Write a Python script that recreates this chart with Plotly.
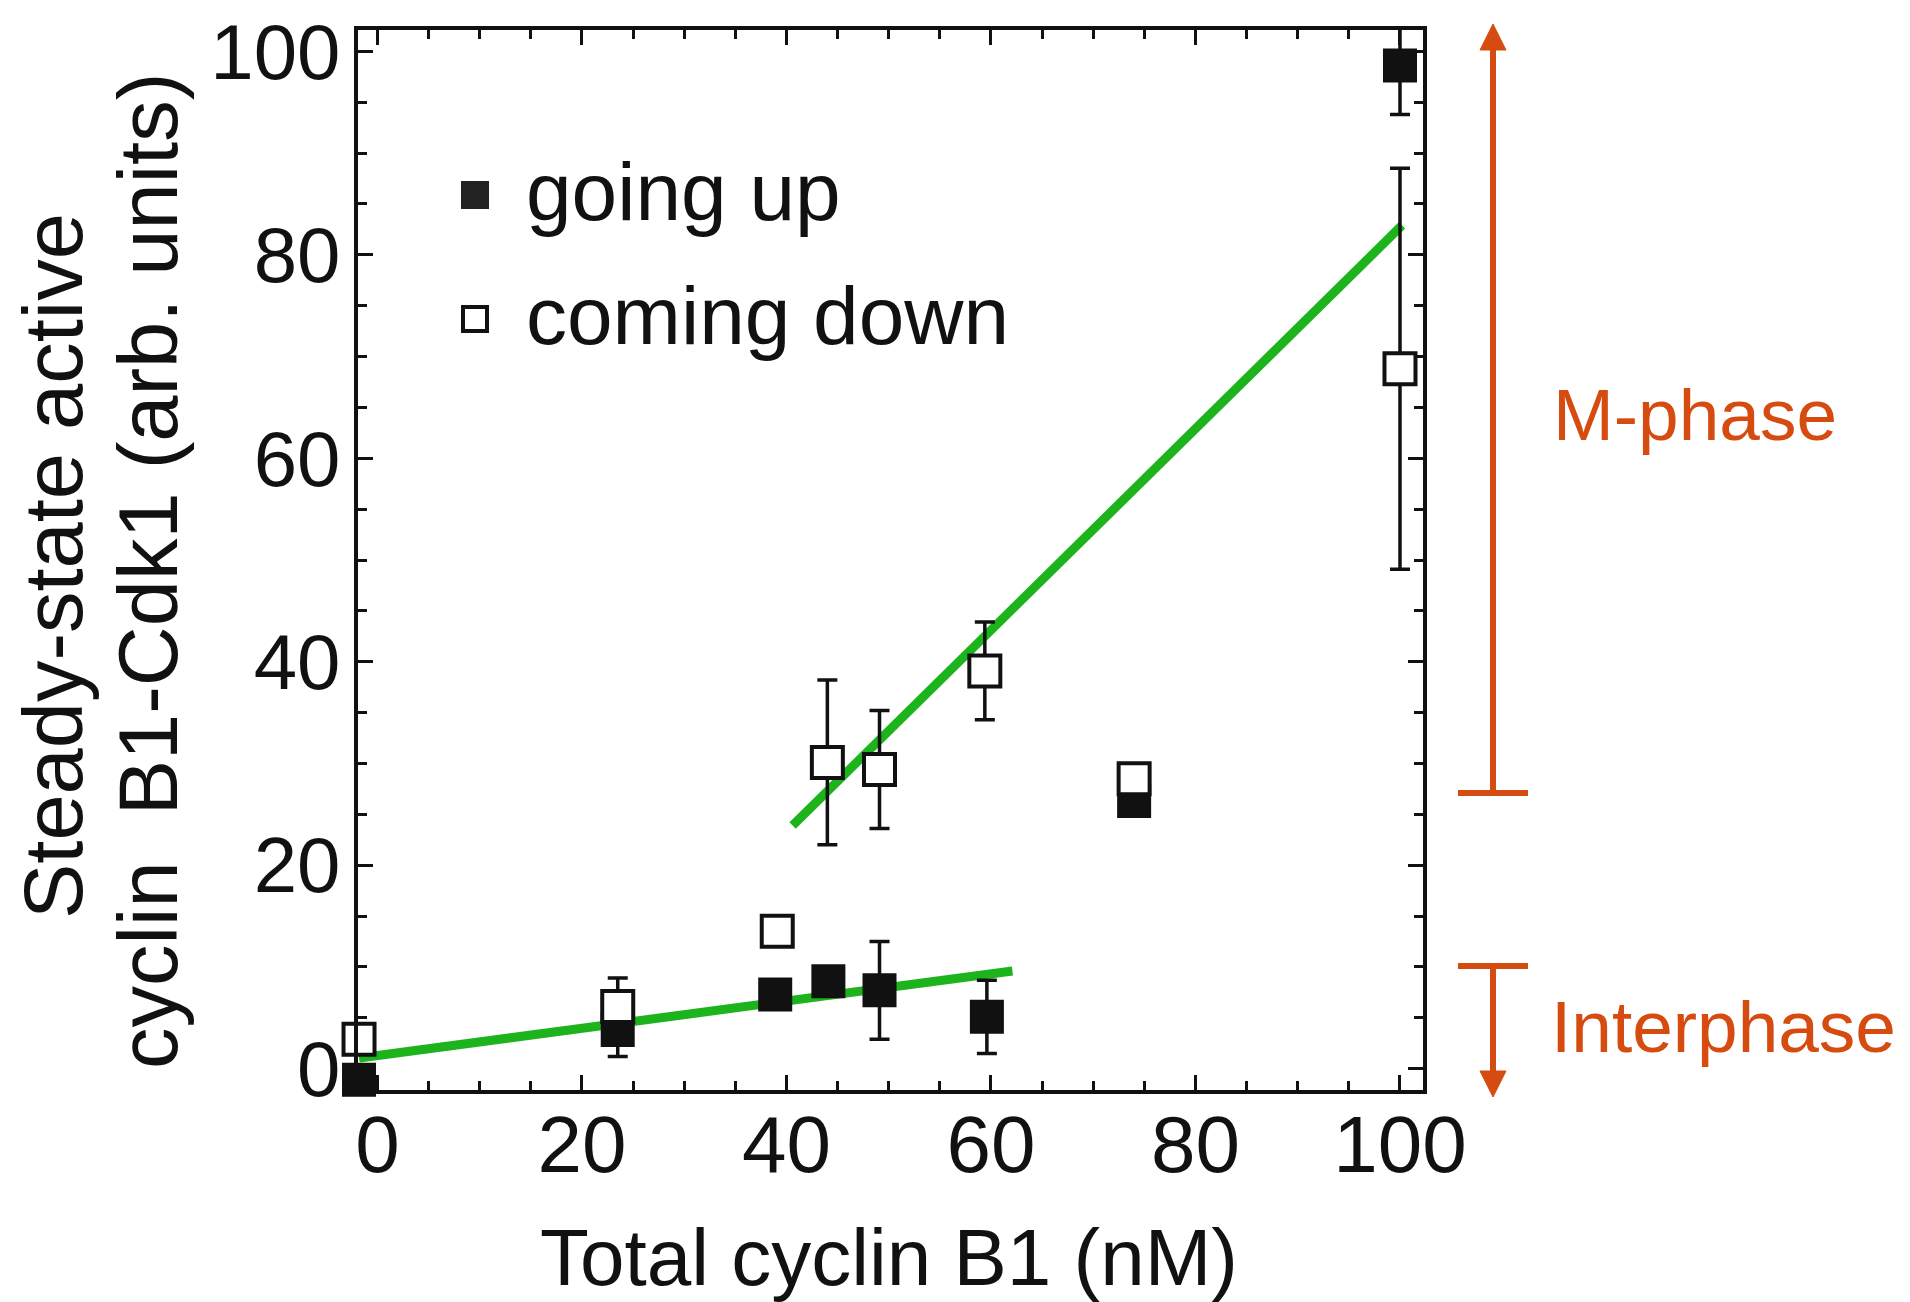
import plotly.graph_objects as go

# ---------------- data ----------------
up_x = [-1.8, 23.5, 38.9, 44.1, 49.1, 59.6, 74.0, 100.0]
up_y = [-1.1, 3.8, 7.3, 8.6, 7.7, 5.1, 26.3, 98.6]
up_err = [0, 2.6, 0, 0, 4.8, 3.6, 0, 4.8]

down_x = [-1.8, 23.5, 39.1, 44.0, 49.1, 59.4, 74.0, 100.0]
down_y = [2.9, 6.1, 13.5, 30.1, 29.4, 39.1, 28.5, 68.8]
down_err = [0, 2.8, 0, 8.1, 5.8, 4.8, 0, 19.7]

fit_inter_x = [-1.8, 62.1]
fit_inter_y = [1.05, 9.6]
fit_m_x = [40.6, 100.2]
fit_m_y = [23.9, 82.9]

legend_names = ["going up", "coming down"]
x_ticks = [0, 20, 40, 60, 80, 100]
y_ticks = [0, 20, 40, 60, 80, 100]
x_title = "Total cyclin B1 (nM)"
y_title_lines = ["Steady-state active", "cyclin&nbsp; B1-Cdk1 (arb. units)"]
phase_labels = ["M-phase", "Interphase"]

# ---------------- layout geometry (pixels) ----------------
W_FIG, H_FIG = 1910, 1302
L, R, T, B = 358, 1423, 30, 1090
PW, PH = R - L, B - T


def px(x):
    return (x - L) / PW


def py(y):
    return (B - y) / PH


GREEN = "#1DB31D"
ORANGE = "#D54B10"
BLACK = "#111111"
FONT = "Liberation Sans, Arial, sans-serif"

fig = go.Figure()

for fx, fy in [(fit_inter_x, fit_inter_y), (fit_m_x, fit_m_y)]:
    fig.add_trace(go.Scatter(x=fx, y=fy, mode="lines",
                             line=dict(color=GREEN, width=9),
                             showlegend=False, hoverinfo="skip",
                             cliponaxis=False))

err_style = dict(type="data", visible=True, color=BLACK, thickness=3.5, width=10)

fig.add_trace(go.Scatter(
    x=up_x, y=up_y, mode="markers", name=legend_names[0],
    marker=dict(symbol="square", size=32, color=BLACK,
                line=dict(color=BLACK, width=2)),
    error_y=dict(array=up_err, **err_style),
    showlegend=False, cliponaxis=False))

fig.add_trace(go.Scatter(
    x=down_x, y=down_y, mode="markers", name=legend_names[1],
    marker=dict(symbol="square", size=31, color="white",
                line=dict(color=BLACK, width=4)),
    error_y=dict(array=down_err, **err_style),
    showlegend=False, cliponaxis=False))

axis_common = dict(
    showline=True, linewidth=4, linecolor=BLACK, mirror="allticks",
    ticks="inside", ticklen=15, tickwidth=3, tickcolor=BLACK,
    showgrid=False, zeroline=False, automargin=False,
    minor=dict(dtick=5, ticks="inside", ticklen=9, tickwidth=3,
               tickcolor=BLACK, showgrid=False),
)

fig.update_xaxes(range=[-1.9, 102.25], tickvals=x_ticks,
                 ticktext=[str(v) for v in x_ticks],
                 tickfont=dict(family=FONT, size=80, color=BLACK),
                 ticklabelstandoff=-18,
                 **axis_common)
fig.update_yaxes(range=[-2.1, 102.1], tickvals=y_ticks,
                 ticktext=[str(v) for v in y_ticks],
                 tickfont=dict(family=FONT, size=78, color=BLACK),
                 ticklabelstandoff=-2,
                 **axis_common)

shapes = []
annotations = []

# legend swatches + text
leg_y = [195, 319]
for i, yy in enumerate(leg_y):
    s = 13
    if i == 0:
        shapes.append(dict(type="rect", xref="paper", yref="paper",
                           x0=px(475 - s - 1), x1=px(475 + s + 1),
                           y0=py(yy + s + 1), y1=py(yy - s - 1),
                           fillcolor="#222222", line=dict(width=0)))
    else:
        shapes.append(dict(type="rect", xref="paper", yref="paper",
                           x0=px(475 - s + 1), x1=px(475 + s - 1),
                           y0=py(yy + s - 1), y1=py(yy - s + 1),
                           fillcolor="white", line=dict(color=BLACK, width=4)))
    annotations.append(dict(text=legend_names[i], xref="paper", yref="paper",
                            x=px(524), y=py(yy - 4), xanchor="left", yanchor="middle",
                            showarrow=False,
                            font=dict(family=FONT, size=82, color=BLACK)))

# x-axis title
annotations.append(dict(text=x_title, xref="paper", yref="paper",
                        x=px(889), y=py(1257), xanchor="center", yanchor="middle",
                        showarrow=False,
                        font=dict(family=FONT, size=80, color=BLACK)))

# y-axis title (two rotated lines)
for text, cx, cy in [(y_title_lines[0], 53, 566), (y_title_lines[1], 149, 571)]:
    annotations.append(dict(text=text, xref="paper", yref="paper",
                            x=px(cx), y=py(cy), xanchor="center", yanchor="middle",
                            textangle=-90, showarrow=False,
                            font=dict(family=FONT, size=83, color=BLACK)))

# phase brackets
LX = 1493
lw = 6
# M-phase
shapes.append(dict(type="line", xref="paper", yref="paper",
                   x0=px(LX), x1=px(LX), y0=py(793), y1=py(48),
                   line=dict(color=ORANGE, width=lw)))
shapes.append(dict(type="line", xref="paper", yref="paper",
                   x0=px(1458), x1=px(1528), y0=py(793), y1=py(793),
                   line=dict(color=ORANGE, width=lw)))
shapes.append(dict(type="path", xref="paper", yref="paper",
                   path=f"M {px(LX-13)},{py(50)} L {px(LX)},{py(24)} L {px(LX+13)},{py(50)} Z",
                   fillcolor=ORANGE, line=dict(color=ORANGE, width=1)))
# Interphase
shapes.append(dict(type="line", xref="paper", yref="paper",
                   x0=px(1458), x1=px(1528), y0=py(966), y1=py(966),
                   line=dict(color=ORANGE, width=lw)))
shapes.append(dict(type="line", xref="paper", yref="paper",
                   x0=px(LX), x1=px(LX), y0=py(966), y1=py(1074),
                   line=dict(color=ORANGE, width=lw)))
shapes.append(dict(type="path", xref="paper", yref="paper",
                   path=f"M {px(LX-13)},{py(1071)} L {px(LX)},{py(1097)} L {px(LX+13)},{py(1071)} Z",
                   fillcolor=ORANGE, line=dict(color=ORANGE, width=1)))

annotations.append(dict(text=phase_labels[0], xref="paper", yref="paper",
                        x=px(1551), y=py(414), xanchor="left", yanchor="middle",
                        showarrow=False, font=dict(family=FONT, size=73, color=ORANGE)))
annotations.append(dict(text=phase_labels[1], xref="paper", yref="paper",
                        x=px(1549), y=py(1026), xanchor="left", yanchor="middle",
                        showarrow=False, font=dict(family=FONT, size=73, color=ORANGE)))

fig.update_layout(
    width=W_FIG, height=H_FIG,
    margin=dict(l=L, r=W_FIG - R, t=T, b=H_FIG - B),
    paper_bgcolor="white", plot_bgcolor="white",
    shapes=shapes, annotations=annotations,
    showlegend=False,
)

fig.write_html("out.html")
